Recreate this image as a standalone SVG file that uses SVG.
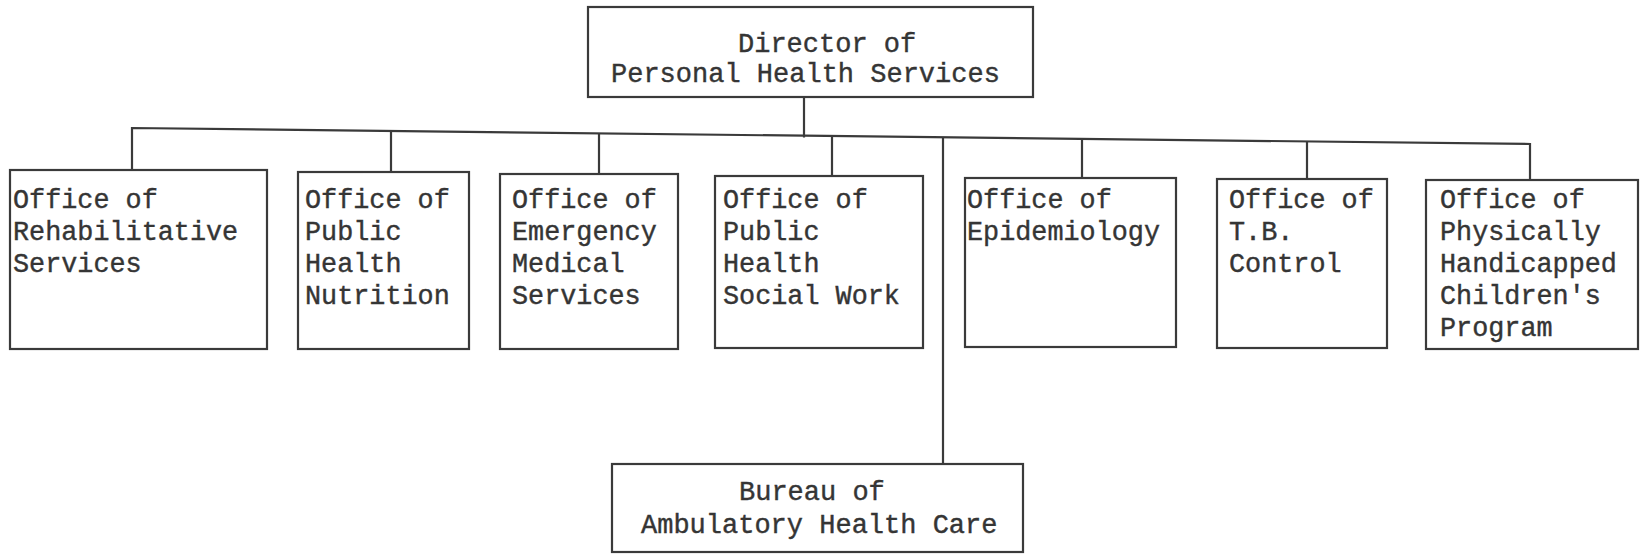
<svg xmlns="http://www.w3.org/2000/svg" width="1640" height="556" viewBox="0 0 1640 556">
  <style>
    .box { fill: #ffffff; stroke: #3a3a3a; stroke-width: 2.2; }
    .wire { fill: none; stroke: #3a3a3a; stroke-width: 2.2; stroke-linecap: square; }
    text { font-family: "Liberation Mono", "DejaVu Sans Mono", monospace; fill: #353535; stroke: #353535; stroke-width: 0.4; }
    .lbl { font-size: 26.8px; }
    .hdr { font-size: 27px; }
  </style>
  <rect width="1640" height="556" fill="#ffffff"/>

  <!-- connectors: bus line runs slightly downhill left to right -->
  <g id="connectors">
    <line class="wire" x1="804" y1="97" x2="804" y2="136.4"/>
    <polyline class="wire" points="132,170 132,128 1530,144 1530,180"/>
    <line class="wire" x1="391" y1="131.7" x2="391" y2="172"/>
    <line class="wire" x1="599" y1="134.1" x2="599" y2="174"/>
    <line class="wire" x1="832" y1="136.7" x2="832" y2="176"/>
    <line class="wire" x1="943" y1="138" x2="943" y2="464"/>
    <line class="wire" x1="1082" y1="139.6" x2="1082" y2="178"/>
    <line class="wire" x1="1307" y1="142.2" x2="1307" y2="179"/>
  </g>

  <g id="director">
    <rect class="box" x="588" y="7" width="445" height="90"/>
    <text class="hdr" x="738" y="52">Director of</text>
    <text class="hdr" x="611" y="82">Personal Health Services</text>
  </g>

  <g id="rehabilitative">
    <rect class="box" x="10" y="170" width="257" height="179"/>
    <text class="lbl" x="13" y="208">Office of</text>
    <text class="lbl" x="13" y="240">Rehabilitative</text>
    <text class="lbl" x="13" y="272">Services</text>
  </g>

  <g id="nutrition">
    <rect class="box" x="298" y="172" width="171" height="177"/>
    <text class="lbl" x="305" y="208">Office of</text>
    <text class="lbl" x="305" y="240">Public</text>
    <text class="lbl" x="305" y="272">Health</text>
    <text class="lbl" x="305" y="304">Nutrition</text>
  </g>

  <g id="emergency">
    <rect class="box" x="500" y="174" width="178" height="175"/>
    <text class="lbl" x="512" y="208">Office of</text>
    <text class="lbl" x="512" y="240">Emergency</text>
    <text class="lbl" x="512" y="272">Medical</text>
    <text class="lbl" x="512" y="304">Services</text>
  </g>

  <g id="social-work">
    <rect class="box" x="715" y="176" width="208" height="172"/>
    <text class="lbl" x="723" y="208">Office of</text>
    <text class="lbl" x="723" y="240">Public</text>
    <text class="lbl" x="723" y="272">Health</text>
    <text class="lbl" x="723" y="304">Social Work</text>
  </g>

  <g id="epidemiology">
    <rect class="box" x="965" y="178" width="211" height="169"/>
    <text class="lbl" x="967" y="208">Office of</text>
    <text class="lbl" x="967" y="240">Epidemiology</text>
  </g>

  <g id="tb-control">
    <rect class="box" x="1217" y="179" width="170" height="169"/>
    <text class="lbl" x="1229" y="208">Office of</text>
    <text class="lbl" x="1229" y="240">T.B.</text>
    <text class="lbl" x="1229" y="272">Control</text>
  </g>

  <g id="handicapped-children">
    <rect class="box" x="1426" y="180" width="212" height="169"/>
    <text class="lbl" x="1440" y="208">Office of</text>
    <text class="lbl" x="1440" y="240">Physically</text>
    <text class="lbl" x="1440" y="272">Handicapped</text>
    <text class="lbl" x="1440" y="304">Children's</text>
    <text class="lbl" x="1440" y="336">Program</text>
  </g>

  <g id="ambulatory">
    <rect class="box" x="612" y="464" width="411" height="88"/>
    <text class="hdr" x="739" y="500">Bureau of</text>
    <text class="hdr" x="641" y="533">Ambulatory Health Care</text>
  </g>
</svg>
